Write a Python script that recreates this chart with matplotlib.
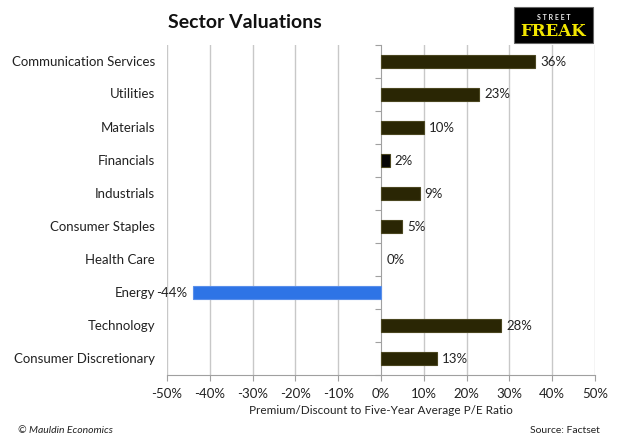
import matplotlib
matplotlib.use("Agg")
import matplotlib.pyplot as plt
from matplotlib.patches import Rectangle
import matplotlib.transforms as mtransforms

categories = ["Communication Services", "Utilities", "Materials", "Financials", "Industrials",
              "Consumer Staples", "Health Care", "Energy", "Technology", "Consumer Discretionary"]
values = [36, 23, 10, 2, 9, 5, 0, -44, 28, 13]
xticks = [-50, -40, -30, -20, -10, 0, 10, 20, 30, 40, 50]
xticklabels = ["-50%", "-40%", "-30%", "-20%", "-10%", "0%", "10%", "20%", "30%", "40%", "50%"]

plt.rcParams['font.family'] = ['Lato', 'DejaVu Sans']

fig = plt.figure(figsize=(6.22, 4.36), dpi=100)
ax = fig.add_axes([167/622, 1-375/436, (595-167)/622, (375-45)/436])

colors = []
for c, v in zip(categories, values):
    if v < 0:
        colors.append("#2E74E6")
    elif c == "Financials":
        colors.append("#050505")
    else:
        colors.append("#2A2604")
edges = []
for v in values:
    if v < 0:
        edges.append("#5A8FEA")
    elif v == 0:
        edges.append("none")
    else:
        edges.append("#4A4620")

y = list(range(len(categories)))
ax.barh(y, values, height=0.4, color=colors, edgecolor=edges, linewidth=0.8, zorder=3)

ax.set_xlim(-50, 50)
ax.set_ylim(len(categories) - 0.5, -0.5)

ax.set_xticks(xticks)
ax.set_xticklabels(xticklabels, fontsize=9.5, color="#222222")
for xv in xticks:
    if xv != 0:
        ax.axvline(xv, color="#C8C8C8", linewidth=1.0, zorder=1)

for s in ["top", "right"]:
    ax.spines[s].set_visible(False)
ax.spines["bottom"].set_color("#A0A0A0")
ax.spines["left"].set_position(("data", 0))
ax.spines["left"].set_color("#A0A0A0")
ax.tick_params(axis="x", colors="#A0A0A0", length=4, labelcolor="#222222", pad=5)
ax.set_yticks([i - 0.5 for i in range(len(categories) + 1)])
ax.tick_params(axis="y", colors="#A0A0A0", length=4, labelleft=False)

trans = mtransforms.blended_transform_factory(ax.transAxes, ax.transData)
for i, c in enumerate(categories):
    ax.text(-12/428, i, c, transform=trans, ha="right", va="center", fontsize=9.5, color="#222222")

offset = 1.2
for i, v in enumerate(values):
    if v < 0:
        ax.text(v - offset, i, f"{v}%", ha="right", va="center", fontsize=9.5, color="#222222")
    else:
        ax.text(v + offset, i, f"{v}%", ha="left", va="center", fontsize=9.5, color="#222222")

ax.set_xlabel("Premium/Discount to Five-Year Average P/E Ratio", fontsize=8.5, color="#222222", labelpad=4)

fig.text(245/622, 1-22/436, "Sector Valuations", ha="center", va="center", fontsize=14, fontweight="bold", color="#111111")

# logo
fig.patches.append(Rectangle((514/622, 1-43/436), (593-514)/622, (43-7)/436, transform=fig.transFigure,
                             facecolor="black", edgecolor="#666666", linewidth=0.8))
fig.text(553.5/622, 1-17/436, "S T R E E T", ha="center", va="center", fontsize=5, fontweight="bold", color="#EEEEEE")
fig.text(553.5/622, 1-31/436, "FREAK", ha="center", va="center", fontsize=12, fontweight="bold",
         family=["DejaVu Serif"], color="#F2E600")

fig.text(18/622, 1-430/436, "© Mauldin Economics", ha="left", va="center", fontsize=7.5, style="italic", color="#222222")
fig.text(600/622, 1-430/436, "Source: Factset", ha="right", va="center", fontsize=7.5, color="#222222")

fig.savefig("out.png", dpi=100)
